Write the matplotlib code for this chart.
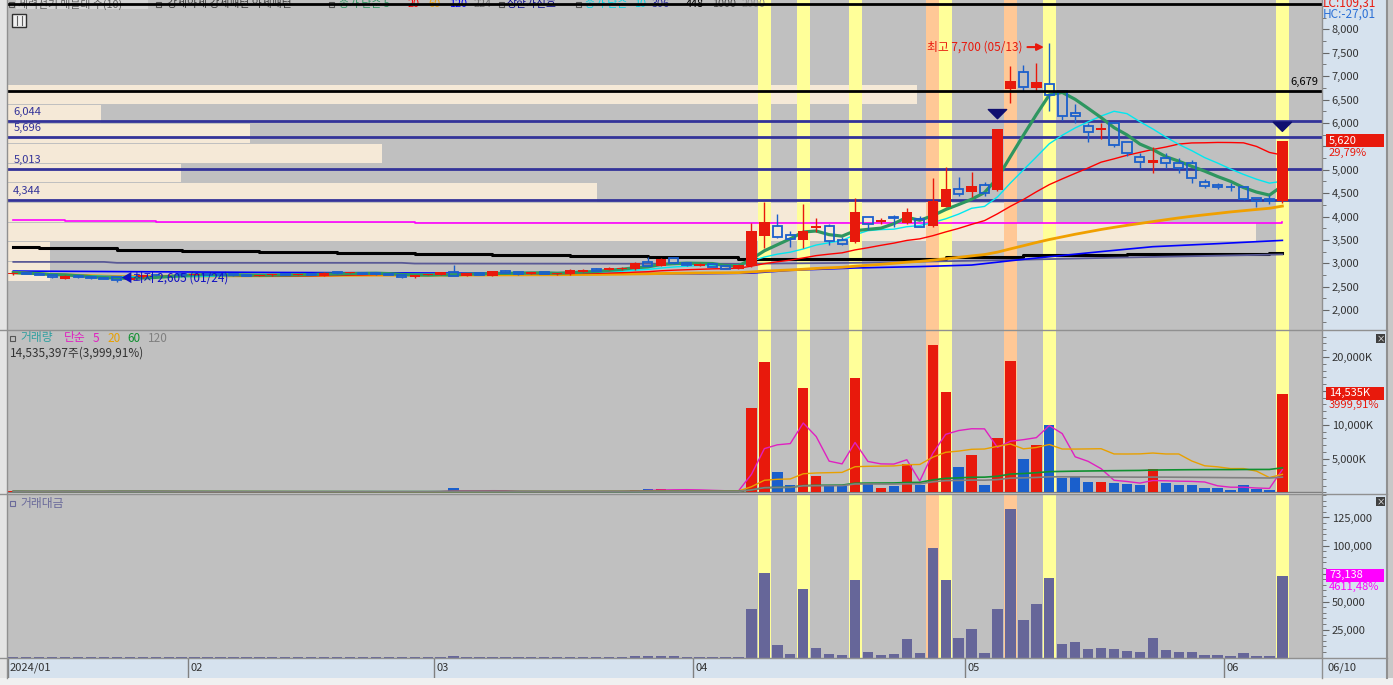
import numpy as np
import pandas as pd
import matplotlib
matplotlib.use('Agg')
import matplotlib.pyplot as plt
from matplotlib.patches import Rectangle
from matplotlib.ticker import FuncFormatter, MultipleLocator

plt.rcParams['font.family'] = ['Noto Sans CJK KR', 'DejaVu Sans']

W, H = 1393, 685

# daily bars 2024-01-12 .. 2024-06-10 (99 sessions)
opens = [2764, 2800, 2780, 2750, 2671, 2728, 2700, 2690, 2700, 2650,
         2700, 2750, 2740, 2760, 2750, 2770, 2760, 2750, 2750, 2735,
         2740, 2770, 2760, 2765, 2728, 2800, 2790, 2800, 2780, 2770,
         2750, 2700, 2750, 2750, 2806, 2735, 2800, 2735, 2835, 2810,
         2770, 2810, 2770, 2764, 2820, 2878, 2856, 2870, 2870, 3020,
         2942, 3106, 3000, 2942, 2980, 2935, 2885, 2942, 3590, 3790,
         3612, 3505, 3754, 3797, 3498, 3448, 3982, 3890, 3975, 3868,
         3953, 3804, 4210, 4580, 4530, 4673, 4566, 6717, 7080, 6753,
         6824, 6689, 6204, 5934, 5841, 5990, 5585, 5278, 5136, 5243,
         5150, 5136, 4744, 4673, 4640, 4623, 4388, 4366, 4330]
highs = [2810, 2815, 2790, 2760, 2740, 2735, 2710, 2700, 2705, 2700,
         2760, 2765, 2770, 2770, 2780, 2780, 2770, 2760, 2755, 2755,
         2780, 2775, 2775, 2770, 2810, 2810, 2810, 2805, 2790, 2775,
         2755, 2760, 2770, 2820, 2963, 2800, 2810, 2845, 2850, 2820,
         2820, 2815, 2800, 2870, 2870, 2890, 2915, 2915, 3030, 3127,
         3110, 3115, 3010, 3000, 2990, 2950, 2970, 3854, 4317, 4060,
         3680, 4270, 3960, 3830, 3570, 4390, 3985, 3975, 4030, 4175,
         4010, 4815, 5050, 4850, 4950, 4745, 5880, 7215, 7245, 7280,
         7700, 6700, 6400, 5990, 5990, 6026, 5600, 5350, 5490, 5364,
         5243, 5207, 4800, 4710, 4710, 4640, 4400, 4460, 5620]
lows = [2750, 2770, 2745, 2690, 2660, 2690, 2665, 2655, 2605, 2640,
        2695, 2730, 2735, 2740, 2745, 2750, 2740, 2735, 2725, 2730,
        2735, 2750, 2750, 2740, 2720, 2780, 2785, 2770, 2760, 2750,
        2690, 2690, 2740, 2745, 2730, 2730, 2750, 2730, 2795, 2760,
        2765, 2765, 2760, 2760, 2815, 2835, 2850, 2865, 2860, 2940,
        2935, 2990, 2950, 2935, 2915, 2880, 2880, 2930, 3320, 3550,
        3355, 3320, 3660, 3390, 3400, 3426, 3711, 3840, 3780, 3832,
        3770, 3780, 4195, 4440, 4424, 4445, 4545, 6418, 6689, 6680,
        6261, 6062, 5990, 5600, 5650, 5490, 5293, 5030, 4936, 5030,
        4936, 4708, 4600, 4580, 4545, 4350, 4210, 4270, 4280]
closes = [2800, 2780, 2760, 2700, 2728, 2700, 2680, 2670, 2643, 2690,
          2750, 2740, 2760, 2750, 2770, 2760, 2750, 2745, 2735, 2745,
          2770, 2760, 2765, 2750, 2800, 2790, 2800, 2780, 2770, 2760,
          2700, 2750, 2760, 2810, 2735, 2790, 2760, 2835, 2800, 2770,
          2810, 2770, 2790, 2856, 2856, 2842, 2906, 2906, 3013, 2949,
          3098, 3000, 2960, 2990, 2925, 2885, 2963, 3690, 3875, 3570,
          3520, 3690, 3797, 3483, 3412, 4096, 3840, 3925, 3960, 4096,
          3775, 4330, 4587, 4490, 4658, 4495, 5870, 6895, 6760, 6867,
          6596, 6140, 6154, 5798, 5884, 5520, 5364, 5171, 5207, 5136,
          5030, 4816, 4658, 4630, 4620, 4366, 4338, 4330, 5620]
# volume, thousand shares
volume = [180, 150, 140, 160, 200, 150, 130, 140, 260, 170,
          160, 120, 110, 120, 130, 110, 100, 110, 90, 100,
          110, 100, 95, 90, 180, 120, 100, 110, 100, 90,
          150, 140, 110, 200, 600, 180, 150, 220, 160, 130,
          120, 110, 130, 200, 180, 150, 190, 160, 420, 550,
          480, 380, 260, 250, 220, 200, 230, 12474, 19265, 3026,
          1107, 15427, 2480, 1107, 1004, 16903, 1402, 709, 960, 4207,
          1151, 21774, 14836, 3764, 5536, 1063, 8045, 19413, 4945, 7012,
          9964, 2140, 2288, 1594, 1594, 1402, 1255, 1107, 3469, 1402,
          1107, 1107, 664, 664, 369, 1107, 517, 363, 14535]
# trading value, million won
amount = [500, 420, 390, 440, 540, 410, 350, 380, 690, 460,
          440, 330, 300, 330, 360, 300, 280, 300, 250, 280,
          300, 280, 260, 250, 500, 330, 280, 310, 280, 250,
          410, 380, 300, 560, 1700, 500, 420, 620, 450, 360,
          330, 300, 360, 570, 510, 430, 550, 460, 1250, 1650,
          1450, 1150, 770, 740, 650, 580, 670, 43300, 75400, 11160,
          3125, 61160, 8480, 3125, 2230, 69200, 4900, 2230, 3125, 16500,
          4000, 97770, 69200, 17400, 25450, 4000, 43300, 132600, 33480, 47770,
          71000, 12050, 13840, 7590, 8480, 7590, 5800, 4900, 17400, 6700,
          4900, 4900, 2230, 2230, 1340, 4000, 1340, 1586, 73138]

month_pos = [-0.41, 13.5, 32.5, 52.5, 73.5, 93.5]
month_lbl = ['2024/01', '02', '03', '04', '05', '06']

yellow_days = [58, 61, 65, 72, 80, 98]
orange_days = [71, 77]

levels = [6044, 5696, 5013, 4344]
black_levels = [6679, 8530]

# price-by-volume bands (lower edge, share of width)
prof_lo = [2626, 3047, 3467, 3888, 4308, 4729, 5149, 5570, 5990, 6411]
prof_w = [0.032, 0.032, 0.950, 0.763, 0.448, 0.132, 0.285, 0.184, 0.071, 0.692]

# long moving averages
ma120_x = [0, 10, 20, 30, 40, 53, 57, 60, 65, 70, 74, 78, 84, 88, 93, 98]
ma120_v = [2835, 2820, 2805, 2795, 2785, 2778, 2790, 2850, 2900, 2930, 2963, 3085, 3250, 3355, 3420, 3490]
ma224_x = [0, 7, 8, 30, 31, 56, 65, 75, 85, 98]
ma224_v = [3030, 3030, 3010, 3010, 2995, 2990, 3010, 3060, 3120, 3190]
ma448_x = [0, 2, 8, 13, 19, 25, 31, 37, 43, 49, 55, 56, 72, 78, 86, 97, 98]
ma448_v = [3341, 3320, 3284, 3270, 3248, 3227, 3205, 3184, 3163, 3141, 3128, 3098, 3141, 3170, 3191, 3226, 3226]
ma306_x = [0, 4, 11, 20, 31, 83, 98]
ma306_v = [3920, 3905, 3890, 3875, 3865, 3865, 3880]

RED = '#e8190c'
BLUE = '#1a5fcc'
BG = '#c0c0c0'
AXBG = '#d6e2ee'
NAVY = '#333399'

o = np.array(opens); h = np.array(highs); l = np.array(lows); c = np.array(closes)
x = np.arange(len(c))
up = c >= o
cs = pd.Series(closes, dtype=float)
vs = pd.Series(volume, dtype=float)


def fr(x0, y0, x1, y1):
    return [x0 / W, 1 - y1 / H, (x1 - x0) / W, (y1 - y0) / H]


def fmt(skip=(), suffix=''):
    return FuncFormatter(lambda v, p: '' if round(v) in skip else f'{v:,.0f}{suffix}')


fig = plt.figure(figsize=(W / 100, H / 100), dpi=100, facecolor='#c8c8c8')
fig.patches.append(Rectangle((1322 / W, 7 / H), 65 / W, 1 - 7 / H, transform=fig.transFigure,
                             fc=AXBG, ec='none', zorder=-2))
fig.patches.append(Rectangle((0, 0), 1, 7 / H, transform=fig.transFigure, fc='#f0f0f0', ec='none', zorder=-2))
fig.patches.append(Rectangle((0, 7 / H), 8 / W, 1, transform=fig.transFigure, fc='#e4e4e4', ec='none', zorder=-2))

ax_p = fig.add_axes(fr(8, 0, 1322, 330))
ax_v = fig.add_axes(fr(8, 331, 1322, 493))
ax_a = fig.add_axes(fr(8, 494, 1322, 658))
ax_x = fig.add_axes(fr(8, 658, 1322, 678))

for ax in (ax_p, ax_v, ax_a):
    ax.set_facecolor(BG)
    ax.set_xlim(-0.41, 101.06)
    ax.set_xticks([])
    for s in ax.spines.values():
        s.set_visible(False)
    ax.yaxis.tick_right()
    ax.tick_params(axis='y', which='both', direction='out', color='#666666',
                   labelcolor='#333333', labelsize=8, pad=2)
    ax.tick_params(axis='y', which='major', length=5)
    ax.tick_params(axis='y', which='minor', length=3)
    for d in yellow_days:
        ax.axvspan(d - 0.5, d + 0.5, color='#ffff99', zorder=1, lw=0)
    for d in orange_days:
        ax.axvspan(d - 0.5, d + 0.5, color='#ffc896', zorder=1, lw=0)

# ---------- price panel ----------
ax_p.set_ylim(1575, 8626)
ax_p.set_yticks(np.arange(2000, 8001, 500))
ax_p.yaxis.set_minor_locator(MultipleLocator(250))
ax_p.yaxis.set_major_formatter(fmt(skip=(5500,)))

ax_p.barh(prof_lo, prof_w, height=400, left=0, align='edge', color='#f5e9d7',
          transform=ax_p.get_yaxis_transform(), zorder=0.5)
for d in yellow_days:
    ax_p.axvspan(d - 0.5, d + 0.5, color='#ffff99', zorder=0.8, lw=0)
for d in orange_days:
    ax_p.axvspan(d - 0.5, d + 0.5, color='#ffc896', zorder=0.8, lw=0)

for lv in levels:
    ax_p.axhline(lv, color=NAVY, lw=2, zorder=2)
    ax_p.text(0, lv + 90, f'{lv:,}', color=NAVY, fontsize=8, va='bottom', ha='left', zorder=2)
for lv in black_levels:
    ax_p.axhline(lv, color='black', lw=2, zorder=5)
ax_p.text(100.8, 6679 + 90, '6,679', color='black', fontsize=8, va='bottom', ha='right', zorder=5)

ax_p.step(ma306_x, ma306_v, where='post', color='#ff00ff', lw=1.2, zorder=2)
ax_p.step(ma448_x, ma448_v, where='post', color='black', lw=2.2, zorder=2)
ax_p.plot(ma224_x, ma224_v, color='#5a5a96', lw=1.3, zorder=2)
ax_p.plot(ma120_x, ma120_v, color='#0000ff', lw=1.2, zorder=2)
ax_p.plot(x, cs.rolling(60, min_periods=1).mean(), color='#f0a000', lw=2, zorder=2)
ax_p.plot(x, cs.rolling(20, min_periods=1).mean(), color='#ff0000', lw=1, zorder=2)
ax_p.plot(x, cs.rolling(10, min_periods=1).mean(), color='#00e8f0', lw=1, zorder=2)
ax_p.plot(x, cs.rolling(5, min_periods=1).mean(), color='#2e9660', lw=2.3, zorder=3)

bw = 0.8
for i in range(len(c)):
    top = max(o[i], c[i]); bot = min(o[i], c[i])
    if top - bot < 20:
        top = bot + 20
    if up[i]:
        ax_p.vlines(i, l[i], h[i], color=RED, lw=1, zorder=4)
        ax_p.bar(i, top - bot, bottom=bot, width=bw, color=RED, zorder=4)
    else:
        ax_p.vlines(i, top, h[i], color=BLUE, lw=1, zorder=4)
        ax_p.vlines(i, l[i], bot, color=BLUE, lw=1, zorder=4)
        ax_p.bar(i, top - bot, bottom=bot, width=bw - 0.1, facecolor='none',
                 edgecolor=BLUE, lw=1.3, zorder=4)

ax_p.text(77.9, 7620, '최고 7,700 (05/13)', color=RED, fontsize=8.5, ha='right', va='center', zorder=6)
ax_p.annotate('', xy=(79.8, 7620), xytext=(78.1, 7620),
              arrowprops=dict(arrowstyle='-|>', color=RED, lw=1.5, mutation_scale=10), zorder=6)
ax_p.text(8.3, 2690, '◀최저 2,605 (01/24)', color='#1010c0', fontsize=8.5, ha='left', va='center', zorder=6)
for d, ytop in ((76, 6330), (98, 6060)):
    ax_p.annotate('', xy=(d, ytop - 300), xytext=(d, ytop),
                  arrowprops=dict(arrowstyle='simple,head_width=1.2,head_length=0.6,tail_width=0.6',
                                  color='#101070', mutation_scale=11), zorder=6)

# top legend line (partly under the top black level line)
leg = [(18, '세력선기 매물대 수(10)', '#606060'), (167, '강세약세 강세패턴 약세패턴', '#404040'),
       (339, '종가 단순 5', '#2e9660'), (408, '20', '#ff0000'), (428, '60', '#f0a000'),
       (449, '120', '#0000ff'), (474, '224', '#707070'),
       (507, '상한가신호', '#101090'), (585, '종가 단순', '#00d8e8'),
       (634, '10', '#00d8e8'), (652, '306', '#3030a0'), (686, '448', '#000000'),
       (712, '1000', '#505050'), (742, '2000', '#909090')]
box_px = [9, 156, 329, 499, 576]
ax_p.add_patch(Rectangle(((16 - 8) / 1314, 1 - 9 / 330), 132 / 1314, 9 / 330, transform=ax_p.transAxes,
                         fc='#d4d4d4', ec='none', zorder=2.5))
for px in box_px:
    ax_p.add_patch(Rectangle(((px - 8) / 1314, 1 - 7 / 330), 5 / 1314, 5 / 330, transform=ax_p.transAxes,
                             fc='none', ec='#555555', lw=0.8, zorder=3))
for px, t, col in leg:
    ax_p.text((px - 8) / 1314, 1 - 4 / 330, t, color=col, fontsize=7.8, transform=ax_p.transAxes,
              ha='left', va='center', zorder=3)

# ---------- volume panel ----------
ax_v.set_ylim(-74, 23841)
ax_v.set_yticks([5000, 10000, 15000, 20000])
ax_v.yaxis.set_minor_locator(MultipleLocator(1000))
ax_v.yaxis.set_major_formatter(fmt(suffix='K'))
ax_v.bar(x, volume, width=bw, color=np.where(up, RED, BLUE), zorder=3)
ax_v.axhline(0, color='#808080', lw=1, zorder=2)
ax_v.plot(x, vs.rolling(5, min_periods=1).mean(), color='#e020c0', lw=1, zorder=4)
ax_v.plot(x, vs.rolling(20, min_periods=1).mean(), color='#e8a000', lw=1, zorder=4)
ax_v.plot(x, vs.rolling(60, min_periods=1).mean(), color='#109030', lw=1.2, zorder=4)
ax_v.plot(x, vs.rolling(120, min_periods=1).mean(), color='#808080', lw=1.2, zorder=4)
vleg = [(20, '거래량', '#30a0a0'), (64, '단순', '#e020c0'), (93, '5', '#e020c0'),
        (107, '20', '#e8a000'), (127, '60', '#109030'), (148, '120', '#808080')]
ax_v.add_patch(Rectangle(((10 - 8) / 1314, 1 - 10 / 162), 5 / 1314, 5 / 162, transform=ax_v.transAxes,
                         fc='none', ec='#555555', lw=0.8, zorder=6))
for px, t, col in vleg:
    ax_v.text((px - 8) / 1314, 1 - 7 / 162, t, color=col, fontsize=8.5, transform=ax_v.transAxes,
              ha='left', va='center', zorder=6)
ax_v.text(2 / 1314, 1 - 22 / 162, '14,535,397주(3,999,91%)', color='#333333', fontsize=8.5,
          transform=ax_v.transAxes, ha='left', va='center', zorder=6)

# ---------- trading value panel ----------
ax_a.set_ylim(-446, 145982)
ax_a.set_yticks([25000, 50000, 75000, 100000, 125000])
ax_a.yaxis.set_minor_locator(MultipleLocator(5000))
ax_a.yaxis.set_major_formatter(fmt(skip=(75000,)))
ax_a.bar(x, amount, width=bw, color='#666699', zorder=3)
ax_a.add_patch(Rectangle(((10 - 8) / 1314, 1 - 12 / 164), 5 / 1314, 5 / 164, transform=ax_a.transAxes,
                         fc='none', ec='#6a6a9a', lw=0.8, zorder=6))
ax_a.text(12 / 1314, 1 - 9 / 164, '거래대금', color='#6a6a9a', fontsize=8.5, transform=ax_a.transAxes,
          ha='left', va='center', zorder=6)

# ---------- date strip ----------
ax_x.set_facecolor(AXBG)
ax_x.set_xlim(-0.41, 101.06)
ax_x.set_ylim(0, 1)
ax_x.set_xticks([]); ax_x.set_yticks([])
for s in ax_x.spines.values():
    s.set_visible(False)
for mp, ml in zip(month_pos, month_lbl):
    ax_x.axvline(mp, color='#808080', lw=1)
    ax_x.text(mp + 0.15, 0.5, ml, fontsize=8, color='#333333', ha='left', va='center', fontstretch='condensed')
fig.text(1328 / W, 1 - 668 / H, '06/10', fontsize=8, color='#333333', va='center', ha='left')

# separators
for yy in (330.5, 493.5, 658):
    fig.lines.append(plt.Line2D([0, 1387 / W], [1 - yy / H] * 2, transform=fig.transFigure,
                                color='#909090', lw=1))
fig.lines.append(plt.Line2D([1322 / W] * 2, [7 / H, 1], transform=fig.transFigure, color='#909090', lw=1))
fig.lines.append(plt.Line2D([1387 / W] * 2, [7 / H, 1], transform=fig.transFigure, color='#909090', lw=1.5))
fig.lines.append(plt.Line2D([7 / W] * 2, [7 / H, 1], transform=fig.transFigure, color='#909090', lw=1))


def tag(yc, txt, fc):
    fig.patches.append(Rectangle((1326 / W, 1 - (yc + 6.5) / H), 58 / W, 13 / H,
                                 transform=fig.transFigure, fc=fc, ec='none', zorder=5))
    fig.text(1329 / W, 1 - yc / H, txt, color='white', fontsize=8, va='center', ha='left', zorder=6)


tag(140.5, '5,620', RED)
fig.text(1329 / W, 1 - 153 / H, '29,79%', color=RED, fontsize=8, va='center', zorder=6)
tag(393, '14,535K', RED)
fig.text(1329 / W, 1 - 405 / H, '3999,91%', color=RED, fontsize=8, va='center', zorder=6)
tag(575, '73,138', '#ff00ff')
fig.text(1329 / W, 1 - 587 / H, '4611,48%', color='#ff00ff', fontsize=8, va='center', zorder=6)
fig.text(1323 / W, 1 - 3 / H, 'LC:109,31', color=RED, fontsize=8.5, va='center', zorder=6)
fig.text(1323 / W, 1 - 14 / H, 'HC:-27,01', color='#2a6fd6', fontsize=8.5, va='center', zorder=6)

for yy in (334, 497):
    fig.patches.append(Rectangle((1376 / W, 1 - (yy + 9) / H), 9 / W, 9 / H, transform=fig.transFigure,
                                 fc='#404040', ec='none', zorder=5))
    fig.text(1380.5 / W, 1 - (yy + 4.5) / H, '×', color='white', fontsize=6, ha='center', va='center', zorder=6)
fig.patches.append(Rectangle((12 / W, 1 - 27 / H), 14 / W, 13 / H, transform=fig.transFigure,
                             fc='#f0f0f0', ec='#303030', lw=1, zorder=5))
for gx in (16.5, 21.5):
    fig.lines.append(plt.Line2D([gx / W] * 2, [1 - 25 / H, 1 - 16 / H], transform=fig.transFigure,
                                color='#606060', lw=0.8, zorder=6))

fig.savefig('out.png', dpi=100)
